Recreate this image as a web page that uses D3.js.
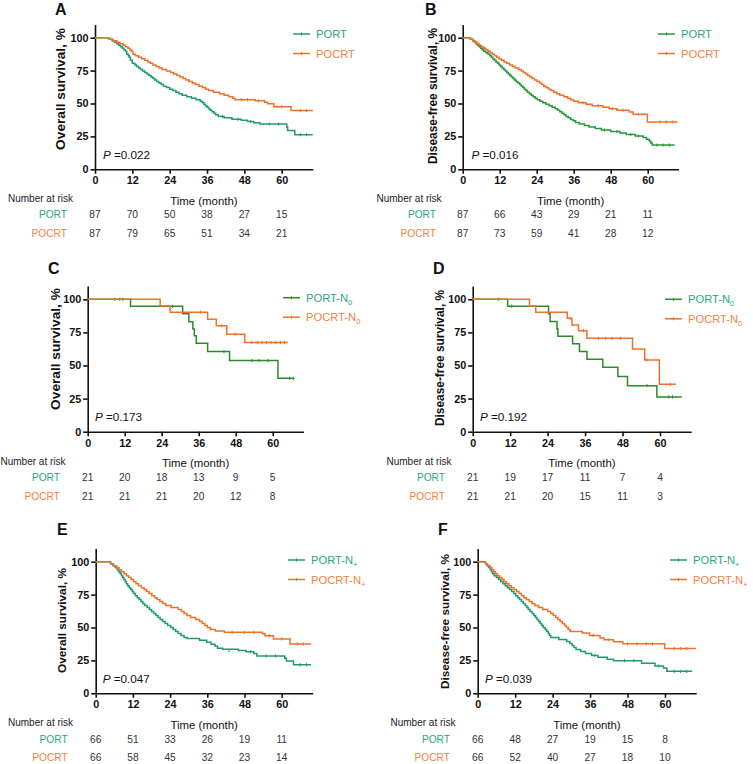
<!DOCTYPE html>
<html><head><meta charset="utf-8">
<script src="https://cdn.jsdelivr.net/npm/d3@7"></script>
<style>body{margin:0;background:#fff}svg{display:block}text{font-family:Arial,"Liberation Sans",sans-serif}</style>
</head><body>
<script>
// ---------- data ----------
const timeTicks = [0, 12, 24, 36, 48, 60];
const survTicks = [0, 25, 50, 75, 100];
const panelLetters = ["A", "B", "C", "D", "E", "F"];
const yTitles = ["Overall survival, %", "Disease-free survival, %", "Overall survival, %", "Disease-free survival, %", "Overall survival, %", "Disease-free survival, %"];
const pValues = ["0.022", "0.016", "0.173", "0.192", "0.047", "0.039"];
const groupNames = ["PORT", "POCRT"];
const legendSubs = ["", "", "0", "0", "+", "+"];

const riskA_PORT = [87, 70, 50, 38, 27, 15];
const riskA_POCRT = [87, 79, 65, 51, 34, 21];
const riskB_PORT = [87, 66, 43, 29, 21, 11];
const riskB_POCRT = [87, 73, 59, 41, 28, 12];
const riskC_PORT = [21, 20, 18, 13, 9, 5];
const riskC_POCRT = [21, 21, 21, 20, 12, 8];
const riskD_PORT = [21, 19, 17, 11, 7, 4];
const riskD_POCRT = [21, 21, 20, 15, 11, 3];
const riskE_PORT = [66, 51, 33, 26, 19, 11];
const riskE_POCRT = [66, 58, 45, 32, 23, 14];
const riskF_PORT = [66, 48, 27, 19, 15, 8];
const riskF_POCRT = [66, 52, 40, 27, 18, 10];

// KM steps: [month, survival %]
const kmA_PORT = [[0,100],[4.6,98.9],[5.5,97.7],[6.3,96.6],[7,95.4],[7.6,94.3],[8.2,93.1],[8.8,92],[9.3,90.8],[9.8,89.7],[10.2,87.4],[10.7,86.2],[11,85.1],[11.4,82.8],[12,80.5],[12.8,79.3],[13.4,78.2],[14,77],[14.6,75.9],[15.3,74.7],[16,73.6],[16.7,72.4],[17.3,71.3],[18,70.1],[18.6,69],[19.2,67.8],[19.8,66.7],[20.5,65.5],[21.3,64.4],[22,63.2],[23,62.1],[24,60.9],[25,59.8],[26,58.6],[27,57.5],[28,56.3],[29.5,55.2],[31,54],[32.5,52.9],[33.8,51.7],[34.5,50.6],[35,49.4],[35.5,48.3],[36,47.1],[36.5,46],[37,44.8],[37.6,43.7],[38.2,42.5],[38.8,41.4],[39.6,40.2],[41.5,39.1],[44,38],[47,37.2],[49,36.3],[51,35.4],[53,34.5],[61.6,32.2],[61.9,29.5],[64.2,26.3],[70,26.3]];
const kmA_POCRT = [[0,100],[4.6,98.9],[5.8,97.7],[7,96.6],[8,95.4],[9,94.3],[9.8,93.1],[10.6,92],[11.2,90.8],[11.7,89.7],[12.2,87.4],[13,86.2],[14,85.1],[15,84],[16,82.8],[17,81.6],[17.8,80.5],[18.6,79.3],[19.6,78.2],[20.6,77],[21.6,75.9],[23,74.7],[24.3,73.6],[25.3,72.4],[26.3,71.3],[27.3,70.1],[28.3,69],[29.2,67.8],[30.2,66.7],[31.3,65.5],[32.3,64.4],[33.4,63.2],[34.6,62.1],[35.5,60.9],[36.5,59.8],[38,58.6],[40,57.5],[41.5,56.3],[43,55.2],[44.3,54],[45,52.9],[51.5,52],[54.5,50.9],[55.5,49.8],[57.5,47.6],[63,44.6],[70,44.6]];
const kmB_PORT = [[0,100],[2.5,98.9],[3.2,97.7],[3.8,96.6],[4.3,95.4],[4.8,94.3],[5.3,93.1],[5.8,92],[6.3,90.8],[6.8,89.7],[7.5,88.5],[8.2,87.4],[8.8,86.2],[9.3,85.1],[9.8,83.9],[10.3,82.8],[10.8,81.6],[11.3,80.5],[11.8,79.3],[12.3,78.2],[12.8,77],[13.3,75.9],[13.8,74.7],[14.3,73.6],[14.8,72.4],[15.3,71.3],[15.8,70.1],[16.3,69],[16.8,67.8],[17.3,66.7],[17.9,65.5],[18.5,64.4],[19,63.2],[19.5,62.1],[20,60.9],[20.5,59.8],[21,58.6],[21.6,57.5],[22.2,56.3],[22.8,55.2],[23.5,54],[24.2,52.9],[25,51.7],[26,50.6],[27,49.4],[28,48.3],[29,47.1],[30,46],[30.8,44.8],[31.5,43.7],[32.2,42.5],[32.8,41.4],[33.5,40.2],[34.2,39.1],[35,37.9],[35.8,36.8],[36.6,35.6],[37.8,34.5],[39.5,33.3],[41,32.2],[43,31],[45,29.9],[48,28.7],[51,27.6],[53,26.4],[56,25.3],[58.5,24.1],[59.6,22.9],[60.5,21.5],[61,20],[61.5,18.4],[68.7,18.4]];
const kmB_POCRT = [[0,100],[2.5,98.9],[3.3,97.7],[4,96.6],[4.7,95.4],[5.3,94.3],[6,93.1],[6.8,92],[7.5,90.8],[8.2,89.7],[8.9,88.5],[9.6,87.4],[10.3,86.2],[11,85.1],[11.8,83.9],[12.6,82.8],[13.4,81.6],[14.3,80.5],[15.2,79.3],[16.1,78.2],[17,77],[18.2,75.9],[19,74.7],[19.7,73.6],[20.4,72.4],[21.1,71.3],[21.8,70.1],[22.5,69],[23.3,67.8],[24.1,66.7],[24.9,65.5],[25.6,64.4],[26.3,63.2],[27,62.1],[27.8,60.9],[28.6,59.8],[29.5,58.6],[30.5,57.5],[31.5,56.3],[32.8,55.2],[34,54],[35,52.9],[36,51.7],[37.5,50.6],[40,49.4],[42,48.3],[45.5,47.1],[47.5,46],[50,44.8],[54,43.5],[55.3,41.8],[59.9,36],[69.7,36]];
const kmC_PORT = [[0,100],[13.9,94.7],[30.8,89],[32.8,83],[34.1,77.5],[34.6,72.4],[35.2,66.8],[38.9,60.5],[46,53.7],[61.7,40.3],[67,40.3]];
const kmC_POCRT = [[0,100],[23.5,95],[26.7,90.2],[38.9,85],[41.7,80],[45.1,73.6],[50.9,67.3],[64.9,67.3]];
const kmD_PORT = [[0,100],[11.2,94.7],[24.3,89],[24.8,83.2],[27,77.5],[27.3,72],[32,66.5],[34.2,60.5],[36.6,54.7],[41.7,48.6],[46.5,41.6],[49.6,34.8],[59,26.3],[67,26.3]];
const kmD_POCRT = [[0,100],[18.2,95],[20.2,90.2],[30.3,85.6],[31.8,80.6],[33.9,76.3],[36.6,70.5],[51.2,62.5],[55.1,54.2],[59.8,35.8],[65.1,35.8]];
const kmE_PORT = [[0,100],[4.8,98.5],[5.6,97],[6.3,95.5],[6.9,93.9],[7.4,92.4],[7.9,90.9],[8.3,89.4],[8.7,87.9],[9.1,86.4],[9.5,84.8],[9.9,83.3],[10.3,81.8],[10.8,80.3],[11.3,78.8],[11.8,77.3],[12.2,75.8],[12.8,74.2],[13.4,72.7],[14,71.2],[14.6,69.7],[15.2,68.2],[15.8,66.7],[16.6,65.2],[17.3,63.6],[18,62.1],[18.7,60.6],[19.4,59.1],[20.1,57.6],[20.8,56.1],[21.6,54.5],[22.4,53],[23.2,51.5],[24.2,50],[25,48.5],[25.8,47],[26.6,45.5],[27.5,43.9],[28.5,42.4],[29.5,41.7],[33.5,40.3],[35.8,38.8],[37.2,37.3],[38.5,35.8],[39.3,34.3],[41,33.4],[46,32.6],[48.5,31.6],[51,30.2],[52,28.4],[61,26.7],[61.5,24.6],[63.8,21.7],[69.5,21.7]];
const kmE_POCRT = [[0,100],[4.8,98.5],[5.8,97],[6.7,95.5],[7.5,93.9],[8.3,92.4],[9.1,90.9],[9.9,89.4],[10.6,87.9],[11.4,86.4],[12.2,84.8],[13,83.3],[13.8,81.8],[14.7,80.3],[15.6,78.8],[16.4,77.3],[17.2,75.8],[18.1,74.2],[19,72.7],[19.8,71.2],[20.7,69.7],[21.6,68.2],[22.6,66.7],[24.3,65.2],[26.6,63.6],[27.6,62.1],[28.5,60.6],[29.4,59.1],[30.6,57.6],[32.2,56.1],[33.5,54.5],[34.4,53],[35.2,51.5],[36,50],[37,48.5],[38.6,47.3],[41.5,46.3],[53.8,45.2],[54.6,43.7],[57.3,41.3],[62.7,37.5],[69.5,37.5]];
const kmF_PORT = [[0,100],[2.5,98.5],[3,97],[3.5,95.5],[4,93.9],[4.4,92.4],[4.8,90.9],[5.3,89.4],[6,87.9],[6.7,86.4],[7.4,84.8],[8.1,83.3],[8.8,81.8],[9.5,80.3],[10.2,78.8],[10.9,77.3],[11.6,75.8],[12.2,74.2],[12.8,72.7],[13.4,71.2],[14,69.7],[14.6,68.2],[15.2,66.7],[15.7,65.2],[16.2,63.6],[16.8,62.1],[17.4,60.6],[18,59.1],[18.5,57.6],[19,56.1],[19.5,54.5],[20,53],[20.5,51.5],[21,50],[21.6,48.5],[22.1,47],[22.6,45.5],[23,43.9],[23.4,42.4],[26,40.9],[28.5,39.4],[29.5,37.9],[30.2,36.4],[30.8,34.8],[31.5,33.3],[33,31.8],[34.5,30.3],[36.5,28.8],[38.5,27.3],[41.5,25.8],[43.5,24.8],[52.5,22.8],[56.8,20.8],[59.5,19.2],[60.6,16.7],[68.7,16.7]];
const kmF_POCRT = [[0,100],[2.5,98.5],[3.2,97],[3.9,95.5],[4.5,93.9],[5.1,92.4],[5.7,90.9],[6.3,89.4],[7,87.9],[7.7,86.4],[8.4,84.8],[9.2,83.3],[10,81.8],[10.8,80.3],[11.6,78.8],[12.4,77.3],[13.2,75.8],[14,74.2],[14.8,72.7],[15.6,71.2],[16.5,69.7],[17.4,68.2],[18.3,66.7],[19.5,65.2],[20.8,63.6],[22.4,62.1],[23.4,60.6],[24.2,59.1],[25,57.6],[25.7,56.1],[26.4,54.5],[27.1,53],[27.8,51.5],[28.4,50],[29,48.5],[29.6,47],[33.5,45.9],[35.8,44],[39.2,42],[40.5,40.6],[43.5,39.1],[46.5,37.7],[59.9,34],[69.9,34]];

// censored observations: [month, survival %]
const cenA_PORT = [[41,40.2],[46,38],[50,36.3],[56,34.5],[59,34.5],[66,26.3],[68,26.3]];
const cenA_POCRT = [[47,52.9],[49,52.9],[52.5,52],[58.5,47.6],[60,47.6],[66,44.6],[68,44.6]];
const cenB_PORT = [[46,29.9],[50,28.7],[54.5,26.4],[57,25.3],[63,18.4],[65,18.4],[67,18.4]];
const cenB_POCRT = [[39,50.6],[44,48.3],[48.5,46],[52,44.8],[57,41.8],[64,36],[66,36],[68,36]];
const cenC_PORT = [[8.8,100],[10.4,100],[11.4,100],[27.5,94.7],[44.2,60.5],[53.3,53.7],[55.6,53.7],[58.4,53.7],[65.5,40.3],[66.7,40.3]];
const cenC_POCRT = [[36.6,90.2],[43.5,80],[47.8,73.6],[53.2,67.3],[55,67.3],[56.5,67.3],[58,67.3],[59.5,67.3],[61,67.3],[62.5,67.3],[63.8,67.3]];
const cenD_PORT = [[8.2,100],[12.5,94.7],[55.8,34.8],[62.8,26.3],[64,26.3]];
const cenD_POCRT = [[31.2,85.6],[35.5,76.3],[40.3,70.5],[42.5,70.5],[44.6,70.5],[47.3,70.5],[55.8,54.2],[63.3,35.8]];
const cenE_PORT = [[43,32.6],[50,31.6],[55,28.4],[58,28.4],[66,21.7],[68,21.7]];
const cenE_POCRT = [[44,46.3],[48,46.3],[51,46.3],[56,43.7],[60,41.3],[65,37.5],[67,37.5]];
const cenF_PORT = [[37.5,28.8],[47,24.8],[50,24.8],[58,20.8],[63,16.7],[65,16.7],[67,16.7]];
const cenF_POCRT = [[37,44],[42,40.6],[48,37.7],[51,37.7],[54,37.7],[56,37.7],[63,34],[65,34],[67,34]];

// ---------- layout ----------
const TEAL_TXT = "#27a77f", ORANGE = "#f07029", ORANGE_TXT = "#f2823f";
const panels = [
  {km:[kmA_PORT,kmA_POCRT], cen:[cenA_PORT,cenA_POCRT], risk:[riskA_PORT,riskA_POCRT], x0:95, x60:281.7, y0:169.3, y100:37.7, gc:"#1f9b70", titleX:60, titleY:89, titleSize:13.7, letterX:55, letterY:14.5, legX:293, legY:34, pX:103, pY:155, nrX:8, nrY:198, rowEnd:67, rowY:[214,233], timeY:201},
  {km:[kmB_PORT,kmB_POCRT], cen:[cenB_PORT,cenB_POCRT], risk:[riskB_PORT,riskB_POCRT], x0:462.7, x60:647.7, y0:169.3, y100:37.7, gc:"#28963a", titleX:433, titleY:96, titleSize:11.9, letterX:425, letterY:14.5, legX:658, legY:34, pX:471.5, pY:155, nrX:376.5, nrY:198, rowEnd:436, rowY:[214,233], timeY:201},
  {km:[kmC_PORT,kmC_POCRT], cen:[cenC_PORT,cenC_POCRT], risk:[riskC_PORT,riskC_POCRT], x0:87.7, x60:272.7, y0:431.7, y100:299.3, gc:"#2b8b2b", titleX:55, titleY:349, titleSize:13.7, letterX:48, letterY:273.5, legX:283, legY:297.7, pX:95, pY:416.7, nrX:0.5, nrY:461, rowEnd:60, rowY:[477.7,496], timeY:462.5},
  {km:[kmD_PORT,kmD_POCRT], cen:[cenD_PORT,cenD_POCRT], risk:[riskD_PORT,riskD_POCRT], x0:472.7, x60:660, y0:431.7, y100:299.3, gc:"#2b8b2b", titleX:440, titleY:358, titleSize:11.9, letterX:433, letterY:273.5, legX:665, legY:299.3, pX:480, pY:416.7, nrX:386.5, nrY:461, rowEnd:445, rowY:[477.7,496], timeY:462.5},
  {km:[kmE_PORT,kmE_POCRT], cen:[cenE_PORT,cenE_POCRT], risk:[riskE_PORT,riskE_POCRT], x0:95.7, x60:281.7, y0:693.3, y100:561.7, gc:"#1f9b70", titleX:62, titleY:620.5, titleSize:11.8, letterX:57, letterY:534.5, legX:288, legY:560, pX:102.7, pY:679, nrX:8, nrY:722.7, rowEnd:67.7, rowY:[739.3,757.7], timeY:725},
  {km:[kmF_PORT,kmF_POCRT], cen:[cenF_PORT,cenF_POCRT], risk:[riskF_PORT,riskF_POCRT], x0:477.7, x60:665, y0:693.3, y100:561.7, gc:"#1f9b70", titleX:445, titleY:621.5, titleSize:11.8, letterX:438, letterY:534.5, legX:670, legY:560, pX:485, pY:679, nrX:390.5, nrY:722.7, rowEnd:450, rowY:[739.3,757.7], timeY:725}
];

const svg = d3.select("body").append("svg").attr("width", 753).attr("height", 764);

panels.forEach((p, i) => {
  const g = svg.append("g");
  const x = d3.scaleLinear().domain([0, 60]).range([p.x0, p.x60]);
  const y = d3.scaleLinear().domain([0, 100]).range([p.y0, p.y100]);
  const xEnd = x(70), yTop = y(110);
  const colors = [p.gc, ORANGE];
  const txtColors = [TEAL_TXT, ORANGE_TXT];

  // axes
  const xAxis = d3.axisBottom(x.copy().domain([0,70]).range([p.x0, xEnd])).tickValues(timeTicks).tickSize(4.5).tickSizeOuter(0).tickPadding(3);
  const yAxis = d3.axisLeft(y.copy().domain([0,110]).range([p.y0, yTop])).tickValues(survTicks).tickSize(4.5).tickSizeOuter(0).tickPadding(2);
  const gx = g.append("g").attr("transform", `translate(0,${p.y0})`).call(xAxis);
  const gy = g.append("g").attr("transform", `translate(${p.x0},0)`).call(yAxis);
  [gx, gy].forEach(a => {
    a.select(".domain").attr("stroke", "#111").attr("stroke-width", 1.6);
    a.selectAll(".tick line").attr("stroke", "#111").attr("stroke-width", 1.6);
    a.selectAll(".tick text").attr("fill", "#111").attr("font-size", 10.8).attr("font-weight", "bold").attr("font-family", "Arial, 'Liberation Sans', sans-serif");
  });

  // curves
  const line = d3.line().x(d => x(d[0])).y(d => y(d[1])).curve(d3.curveStepAfter);
  p.km.forEach((km, k) => {
    g.append("path").attr("d", line(km)).attr("fill", "none").attr("stroke", colors[k]).attr("stroke-width", 1.5);
    g.selectAll(null).data(p.cen[k]).enter().append("line")
      .attr("x1", d => x(d[0])).attr("x2", d => x(d[0]))
      .attr("y1", d => y(d[1]) - 1.6).attr("y2", d => y(d[1]) + 1.6)
      .attr("stroke", colors[k]).attr("stroke-width", 1);
  });

  // panel letter
  g.append("text").attr("x", p.letterX).attr("y", p.letterY).text(panelLetters[i])
    .attr("font-size", 16).attr("font-weight", "bold").attr("fill", "#111");

  // y title
  g.append("text").attr("transform", `translate(${p.titleX},${p.titleY}) rotate(-90)`)
    .attr("text-anchor", "middle").attr("dy", "0.35em").text(yTitles[i])
    .attr("font-size", p.titleSize).attr("font-weight", "bold").attr("fill", "#111");

  // legend
  groupNames.forEach((name, k) => {
    const ly = p.legY + k * 19.5;
    g.append("line").attr("x1", p.legX).attr("x2", p.legX + 17).attr("y1", ly).attr("y2", ly).attr("stroke", colors[k]).attr("stroke-width", 1.5);
    g.append("line").attr("x1", p.legX + 8.5).attr("x2", p.legX + 8.5).attr("y1", ly - 1.5).attr("y2", ly + 1.5).attr("stroke", colors[k]).attr("stroke-width", 1);
    const t = g.append("text").attr("x", p.legX + 23).attr("y", ly).attr("dy", "0.36em")
      .attr("font-size", 11.2).attr("fill", txtColors[k]);
    if (legendSubs[i]) {
      t.append("tspan").text(name + "-N");
      t.append("tspan").text(legendSubs[i]).attr("font-size", 7.5).attr("dy", 3);
    } else {
      t.text(name);
    }
  });

  // P value
  const pt = g.append("text").attr("x", p.pX).attr("y", p.pY).attr("dy", "0.36em").attr("font-size", 11.7).attr("fill", "#111");
  pt.append("tspan").text("P").attr("font-style", "italic");
  pt.append("tspan").text(" =" + pValues[i]);

  // x title
  g.append("text").attr("x", (p.x0 + xEnd) / 2).attr("y", p.timeY).attr("dy", "0.36em")
    .attr("text-anchor", "middle").attr("font-size", 11.4).attr("fill", "#111").text("Time (month)");

  // number at risk
  g.append("text").attr("x", p.nrX).attr("y", p.nrY).attr("dy", "0.36em")
    .attr("font-size", 10).attr("fill", "#222").text("Number at risk");
  groupNames.forEach((name, k) => {
    g.append("text").attr("x", p.rowEnd).attr("y", p.rowY[k]).attr("dy", "0.36em")
      .attr("text-anchor", "end").attr("font-size", 10.2).attr("fill", txtColors[k]).text(name);
    g.selectAll(null).data(p.risk[k]).enter().append("text")
      .attr("x", (d, j) => x(timeTicks[j])).attr("y", p.rowY[k]).attr("dy", "0.36em")
      .attr("text-anchor", "middle").attr("font-size", 10.2).attr("fill", "#333").text(d => d);
  });
});
</script>
</body></html>
